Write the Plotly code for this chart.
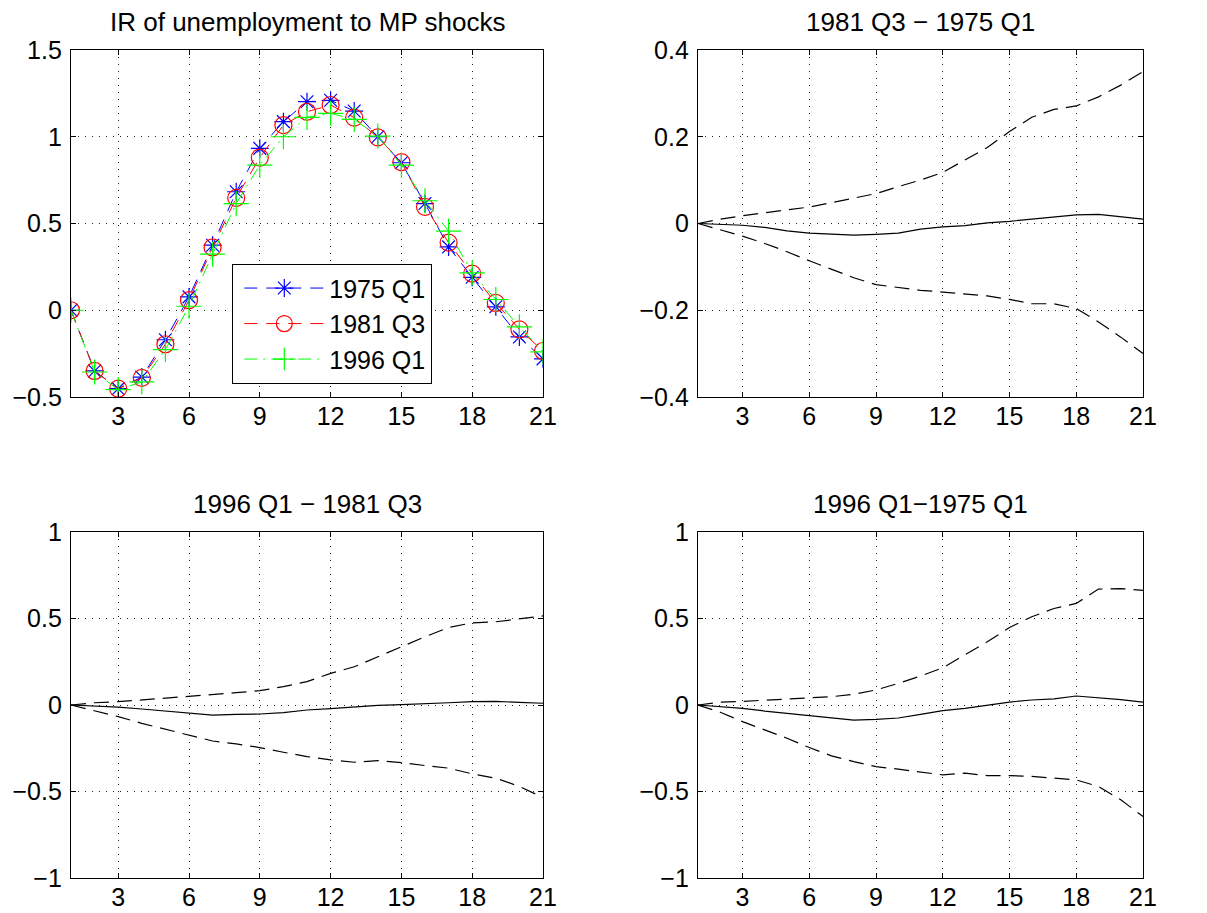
import plotly.graph_objects as go

# Horizon (quarters)
horizon = list(range(1, 22))

# Impulse responses of unemployment to a monetary policy shock
ir_1975q1 = [0.0, -0.35, -0.452, -0.385, -0.17, 0.077, 0.375, 0.683, 0.933, 1.087, 1.202,
             1.21, 1.148, 1.0, 0.85, 0.615, 0.365, 0.19, 0.02, -0.154, -0.28]
ir_1981q3 = [0.0, -0.35, -0.452, -0.39, -0.196, 0.058, 0.362, 0.648, 0.88, 1.067, 1.144,
             1.183, 1.11, 0.996, 0.854, 0.596, 0.39, 0.211, 0.042, -0.11, -0.235]
ir_1996q1 = [0.0, -0.356, -0.458, -0.413, -0.227, 0.023, 0.323, 0.615, 0.837, 1.0, 1.112,
             1.135, 1.1, 1.004, 0.837, 0.631, 0.456, 0.215, 0.062, -0.096, -0.24]

# 1981 Q3 - 1975 Q1: median difference and bands
d81_75_med = [0.0, -0.002, -0.004, -0.009, -0.017, -0.022, -0.024, -0.027, -0.025, -0.022, -0.013,
              -0.008, -0.005, 0.0015, 0.005, 0.01, 0.014, 0.02, 0.021, 0.016, 0.01]
d81_75_hi = [0.0, 0.01, 0.018, 0.025, 0.032, 0.038, 0.048, 0.058, 0.069, 0.085, 0.1,
             0.118, 0.146, 0.175, 0.212, 0.245, 0.263, 0.271, 0.292, 0.319, 0.35]
d81_75_lo = [0.0, -0.015, -0.029, -0.046, -0.065, -0.086, -0.106, -0.125, -0.141, -0.148, -0.154,
             -0.158, -0.162, -0.167, -0.175, -0.185, -0.185, -0.196, -0.227, -0.262, -0.3]

# 1996 Q1 - 1981 Q3
d96_81_med = [0.0, -0.006, -0.012, -0.023, -0.035, -0.044, -0.058, -0.054, -0.052, -0.044, -0.029,
              -0.021, -0.01, -0.002, 0.002, 0.006, 0.013, 0.019, 0.021, 0.015, 0.01]
d96_81_hi = [0.0, 0.013, 0.019, 0.029, 0.038, 0.048, 0.058, 0.071, 0.083, 0.106, 0.135,
             0.183, 0.221, 0.279, 0.337, 0.394, 0.448, 0.475, 0.481, 0.496, 0.515]
d96_81_lo = [0.0, -0.033, -0.067, -0.106, -0.14, -0.173, -0.208, -0.225, -0.246, -0.273, -0.298,
             -0.317, -0.331, -0.321, -0.333, -0.35, -0.365, -0.398, -0.423, -0.471, -0.535]

# 1996 Q1 - 1975 Q1
d96_75_med = [0.0, -0.01, -0.019, -0.035, -0.048, -0.063, -0.077, -0.087, -0.083, -0.075, -0.054,
              -0.033, -0.019, -0.002, 0.017, 0.029, 0.035, 0.052, 0.042, 0.031, 0.017]
d96_75_hi = [0.0, 0.017, 0.021, 0.027, 0.035, 0.042, 0.048, 0.062, 0.087, 0.125, 0.167,
             0.215, 0.288, 0.365, 0.448, 0.51, 0.558, 0.587, 0.67, 0.673, 0.663]
d96_75_lo = [0.0, -0.042, -0.096, -0.144, -0.192, -0.246, -0.294, -0.327, -0.356, -0.371, -0.388,
             -0.404, -0.394, -0.408, -0.408, -0.413, -0.423, -0.433, -0.471, -0.548, -0.644]

x_ticks = [3, 6, 9, 12, 15, 18, 21]
titles = ["IR of unemployment to MP shocks", "1981 Q3 \u2212 1975 Q1",
          "1996 Q1 \u2212 1981 Q3", "1996 Q1\u22121975 Q1"]

W, H = 1207, 913
FONT = "Liberation Sans, Arial, Helvetica, sans-serif"

# panel boxes in pixels: (left, right, top, bottom)
boxes = [(71, 543, 50, 397), (698, 1143, 50, 397),
         (71, 543, 532, 878), (698, 1143, 532, 878)]
y_ranges = [(-0.5, 1.5), (-0.4, 0.4), (-1, 1), (-1, 1)]
y_ticks = [[-0.5, 0, 0.5, 1, 1.5], [-0.4, -0.2, 0, 0.2, 0.4],
           [-1, -0.5, 0, 0.5, 1], [-1, -0.5, 0, 0.5, 1]]

fig = go.Figure()

# Panel 1: impulse responses at three dates
fig.add_trace(go.Scatter(x=horizon, y=ir_1975q1, name="1975 Q1", mode="lines+markers",
                         line=dict(color="#0000ff", width=1, dash="13px,9px"),
                         marker=dict(symbol="asterisk-open", size=15, line=dict(color="#0000ff", width=1.2)),
                         xaxis="x", yaxis="y"))
fig.add_trace(go.Scatter(x=horizon, y=ir_1981q3, name="1981 Q3", mode="lines+markers",
                         line=dict(color="#ff0000", width=1, dash="13px,9px"),
                         marker=dict(symbol="circle-open", size=17, line=dict(color="#ff0000", width=1.2)),
                         xaxis="x", yaxis="y"))
fig.add_trace(go.Scatter(x=horizon, y=ir_1996q1, name="1996 Q1", mode="lines+markers",
                         line=dict(color="#00ff00", width=1, dash="13px,6px,2px,6px"),
                         marker=dict(symbol="cross-thin-open", size=18, line=dict(color="#00ff00", width=1.2)),
                         xaxis="x", yaxis="y"))

# Panels 2-4: differences with bands
diffs = [(d81_75_med, d81_75_hi, d81_75_lo, "x2", "y2"),
         (d96_81_med, d96_81_hi, d96_81_lo, "x3", "y3"),
         (d96_75_med, d96_75_hi, d96_75_lo, "x4", "y4")]
for med, hi, lo, xa, ya in diffs:
    fig.add_trace(go.Scatter(x=horizon, y=med, mode="lines", showlegend=False,
                             line=dict(color="black", width=1.2), xaxis=xa, yaxis=ya))
    for band in (hi, lo):
        fig.add_trace(go.Scatter(x=horizon, y=band, mode="lines", showlegend=False,
                                 line=dict(color="black", width=1.2, dash="15px,8px"),
                                 xaxis=xa, yaxis=ya))

axis_common = dict(showline=True, linecolor="black", linewidth=1.3, mirror="ticks",
                   ticks="inside", ticklen=5, tickcolor="black", tickwidth=1,
                   showgrid=True, gridcolor="#222222", gridwidth=1, griddash="1px,6px",
                   zeroline=False, automargin=False,
                   tickfont=dict(family=FONT, size=25, color="black"))

layout = {}
for i, ((l, r, t, b), yr, yt) in enumerate(zip(boxes, y_ranges, y_ticks)):
    sfx = "" if i == 0 else str(i + 1)
    layout["xaxis" + sfx] = dict(axis_common, domain=[l / W, r / W], range=[1, 21],
                                 tickvals=x_ticks, anchor="y" + sfx, ticklabelstandoff=-3)
    layout["yaxis" + sfx] = dict(axis_common, domain=[1 - b / H, 1 - t / H], range=list(yr),
                                 tickvals=yt, anchor="x" + sfx, ticklabelstandoff=3)

annotations = []
for (l, r, t, b), title in zip(boxes, titles):
    annotations.append(dict(text=title, x=(l + r) / 2 / W, y=1 - (t - 28) / H,
                            xref="paper", yref="paper", xanchor="center", yanchor="middle",
                            showarrow=False, font=dict(family=FONT, size=26, color="black")))

fig.update_layout(
    **layout,
    template="none",
    annotations=annotations,
    width=W, height=H,
    margin=dict(l=0, r=0, t=0, b=0, autoexpand=False),
    paper_bgcolor="white", plot_bgcolor="white",
    showlegend=True,
    legend=dict(x=232 / W, y=1 - 264 / H, xanchor="left", yanchor="top",
                bgcolor="white", bordercolor="black", borderwidth=1.3,
                font=dict(family=FONT, size=25, color="black"),
                itemsizing="trace", itemwidth=80, tracegroupgap=0,
                indentation=6, entrywidth=110),
)

fig.write_html("out.html")
